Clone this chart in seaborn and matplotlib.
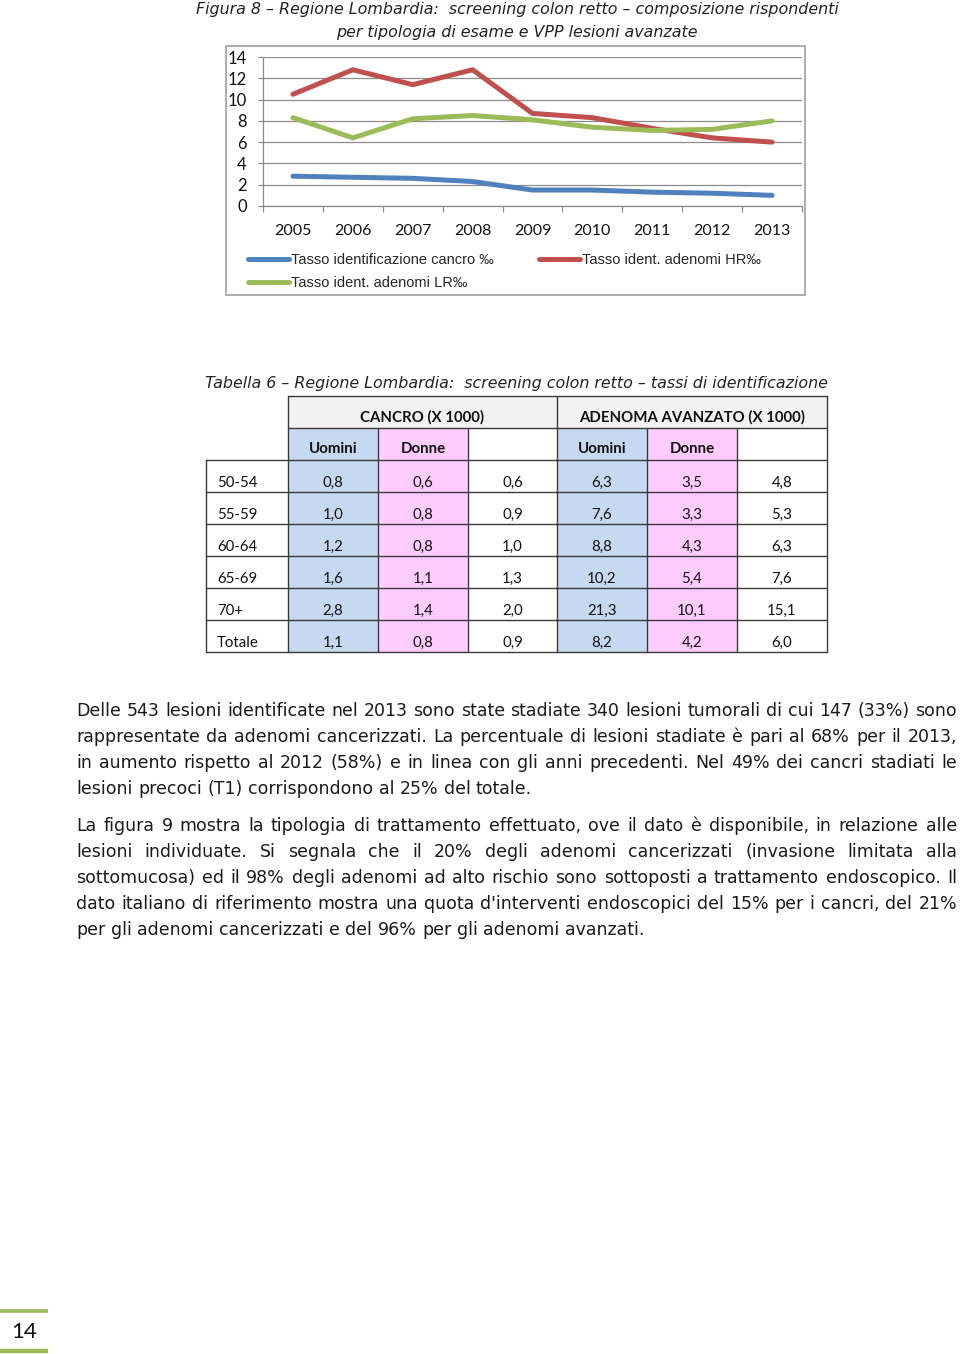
import matplotlib
matplotlib.use("Agg")
import matplotlib.pyplot as plt
import seaborn as sns
import pandas as pd
import numpy as np
from matplotlib.patches import Rectangle

# ---------------- data ----------------
years = [2005, 2006, 2007, 2008, 2009, 2010, 2011, 2012, 2013]
tasso_cancro = [2.8, 2.7, 2.6, 2.3, 1.5, 1.5, 1.3, 1.2, 1.0]
tasso_hr = [10.5, 12.8, 11.4, 12.8, 8.7, 8.3, 7.3, 6.4, 6.0]
tasso_lr = [8.3, 6.4, 8.2, 8.5, 8.1, 7.4, 7.1, 7.2, 8.0]
series_labels = ["Tasso identificazione cancro ‰", "Tasso ident. adenomi HR‰",
                 "Tasso ident. adenomi LR‰"]
y_ticks = [0, 2, 4, 6, 8, 10, 12, 14]

age_groups = ["50-54", "55-59", "60-64", "65-69", "70+", "Totale"]
cancro_uomini = [0.8, 1.0, 1.2, 1.6, 2.8, 1.1]
cancro_donne = [0.6, 0.8, 0.8, 1.1, 1.4, 0.8]
cancro_totale = [0.6, 0.9, 1.0, 1.3, 2.0, 0.9]
adenoma_uomini = [6.3, 7.6, 8.8, 10.2, 21.3, 8.2]
adenoma_donne = [3.5, 3.3, 4.3, 5.4, 10.1, 4.2]
adenoma_totale = [4.8, 5.3, 6.3, 7.6, 15.1, 6.0]
group_headers = ["CANCRO (X 1000)", "ADENOMA AVANZATO (X 1000)"]
sub_headers = ["Uomini", "Donne", "", "Uomini", "Donne", ""]

fig_title = ["Figura 8 – Regione Lombardia:  screening colon retto – composizione rispondenti",
             "per tipologia di esame e VPP lesioni avanzate"]
tab_title = "Tabella 6 – Regione Lombardia:  screening colon retto – tassi di identificazione"
paragraphs = [
    ["Delle 543 lesioni identificate nel 2013 sono state stadiate 340 lesioni tumorali di cui 147 (33%) sono",
     "rappresentate da adenomi cancerizzati. La percentuale di lesioni stadiate è pari al 68% per il 2013,",
     "in aumento rispetto al 2012 (58%) e in linea con gli anni precedenti. Nel 49% dei cancri stadiati le",
     "lesioni precoci (T1) corrispondono al 25% del totale."],
    ["La figura 9 mostra la tipologia di trattamento effettuato, ove il dato è disponibile, in relazione alle",
     "lesioni individuate. Si segnala che il 20% degli adenomi cancerizzati (invasione limitata alla",
     "sottomucosa) ed il 98% degli adenomi ad alto rischio sono sottoposti a trattamento endoscopico. Il",
     "dato italiano di riferimento mostra una quota d'interventi endoscopici del 15% per i cancri, del 21%",
     "per gli adenomi cancerizzati e del 96% per gli adenomi avanzati."],
]
page_number = "14"

# ---------------- styles ----------------
BLUE, RED, GREEN = "#4f81bd", "#c0504d", "#9bbb59"
GRID = "#8c8c8c"
CELL_BLUE, CELL_PINK, HEAD_GRAY = "#c6d9f1", "#ffccff", "#f2f2f2"
BODY = "DejaVu Sans"
TAB = "Lato"
W, H = 960, 1354

sns.set_style("white")
plt.rcParams["font.family"] = ["DejaVu Sans"]

fig = plt.figure(figsize=(W / 100, H / 100), dpi=100)
bg = fig.add_axes([0, 0, 1, 1])
bg.set_xlim(0, W)
bg.set_ylim(H, 0)
bg.axis("off")
renderer = fig.canvas.get_renderer()


def text_width(s, size, **kw):
    t = bg.text(0, 0, s, fontsize=size, **kw)
    w = t.get_window_extent(renderer).width
    t.remove()
    return w


def fit_size(s, target, **kw):
    return 10 * target / text_width(s, 10, **kw)


def px_rect(l, t, r, b):
    return [l / W, 1 - b / H, (r - l) / W, (b - t) / H]


# ---------------- chart ----------------
title_size = fit_size(fig_title[0], 643, family=BODY, style="italic")
bg.text(517, 14, fig_title[0], fontsize=title_size, family=BODY, style="italic",
        ha="center", va="baseline", color="#222222")
bg.text(517, 37, fig_title[1], fontsize=title_size, family=BODY, style="italic",
        ha="center", va="baseline", color="#222222")

bg.add_patch(Rectangle((226, 46), 805 - 226, 295 - 46, fill=False, ec="#a6a6a6", lw=1.3))

df = pd.DataFrame({"Anno": years * 3,
                   "Valore": tasso_cancro + tasso_hr + tasso_lr,
                   "Serie": [series_labels[0]] * 9 + [series_labels[1]] * 9 + [series_labels[2]] * 9})
ax = fig.add_axes(px_rect(263, 57, 802, 206))
sns.lineplot(data=df, x="Anno", y="Valore", hue="Serie", hue_order=series_labels,
             palette=[BLUE, RED, GREEN], linewidth=3.6, ax=ax, legend=False)
for ln in ax.lines:
    ln.set_solid_capstyle("round")
    ln.set_solid_joinstyle("round")
ax.set_xlim(2004.5, 2013.5)
ax.set_ylim(0, 14)
ax.set_yticks(y_ticks)
ax.set_xticks(years)
ax.set_xticks(np.arange(2004.5, 2014, 1.0), minor=True)
ax.set_xlabel("")
ax.set_ylabel("")
ax.grid(axis="y", color=GRID, lw=0.9)
ax.grid(axis="x", visible=False)
ax.set_axisbelow(True)
for s in ["top", "right"]:
    ax.spines[s].set_visible(False)
for s in ["left", "bottom"]:
    ax.spines[s].set_color(GRID)
    ax.spines[s].set_linewidth(0.9)
ax.tick_params(axis="y", which="major", length=3.6, width=0.9, color=GRID, pad=8,
               labelsize=12, labelcolor="#111111", left=True)
ax.tick_params(axis="x", which="major", length=0, pad=13, labelsize=11.5, labelcolor="#111111")
ax.tick_params(axis="x", which="minor", length=4.5, width=0.9, color=GRID, bottom=True, direction="out")
for lab in ax.get_yticklabels() + ax.get_xticklabels():
    lab.set_family("Lato")
ax.patch.set_alpha(0)

h = ax.lines
leg = fig.legend([h[0], h[2], h[1]], [series_labels[0], series_labels[2], series_labels[1]],
                 ncol=2, loc="upper left", bbox_to_anchor=(248 / W, 1 - 253 / H),
                 frameon=False, prop={"family": "Liberation Sans", "size": 10.5},
                 handlelength=2.8, handletextpad=0.15, columnspacing=3.1,
                 labelspacing=0.62, borderpad=0, borderaxespad=0)
for lh in leg.get_lines():
    lh.set_linewidth(3.6)
    lh.set_solid_capstyle("round")

# ---------------- table ----------------
tsize = fit_size(tab_title, 622, family=BODY, style="italic")
bg.text(516, 388, tab_title, fontsize=tsize, family=BODY, style="italic",
        ha="center", va="baseline", color="#222222")

col_edges = [206, 288, 378, 468, 557, 647, 737, 827]
row_edges = [396, 428, 460, 492, 524, 556, 588, 620, 652]
LINE = "#3a3a3a"
cell_size = 10.8

table = pd.DataFrame({"Uomini C": cancro_uomini, "Donne C": cancro_donne, "Tot C": cancro_totale,
                      "Uomini A": adenoma_uomini, "Donne A": adenoma_donne, "Tot A": adenoma_totale},
                     index=age_groups)
col_fill = [CELL_BLUE, CELL_PINK, "white", CELL_BLUE, CELL_PINK, "white"]

# header row 1 (merged)
bg.add_patch(Rectangle((col_edges[1], row_edges[0]), col_edges[7] - col_edges[1],
                       row_edges[1] - row_edges[0], fc=HEAD_GRAY, ec="none"))
for g, (c0, c1) in enumerate([(1, 4), (4, 7)]):
    xm = (col_edges[c0] + col_edges[c1]) / 2
    bg.text(xm, (row_edges[0] + row_edges[1]) / 2 + 5, group_headers[g], fontsize=cell_size,
            family=TAB, weight="bold", ha="center", va="center", color="#111111")
# header row 2 + body fills
for j in range(6):
    x0, x1 = col_edges[j + 1], col_edges[j + 2]
    bg.add_patch(Rectangle((x0, row_edges[1]), x1 - x0, row_edges[-1] - row_edges[1],
                           fc=col_fill[j], ec="none"))
    if sub_headers[j]:
        bg.text((x0 + x1) / 2, (row_edges[1] + row_edges[2]) / 2 + 5, sub_headers[j],
                fontsize=cell_size, family=TAB, weight="bold", ha="center", va="center",
                color="#111111")
for i, grp in enumerate(age_groups):
    yc = (row_edges[i + 2] + row_edges[i + 3]) / 2 + 7
    bg.text(col_edges[0] + 11, yc, grp, fontsize=cell_size, family=TAB, ha="left", va="center",
            color="#111111")
    for j, col in enumerate(table.columns):
        val = f"{table.loc[grp, col]:.1f}".replace(".", ",")
        bg.text((col_edges[j + 1] + col_edges[j + 2]) / 2, yc, val, fontsize=cell_size,
                family=TAB, ha="center", va="center", color="#111111")
# grid lines
lw = 1.0
bg.plot([col_edges[1], col_edges[7]], [row_edges[0]] * 2, color=LINE, lw=lw)
bg.plot([col_edges[1], col_edges[7]], [row_edges[1]] * 2, color=LINE, lw=lw)
for r in row_edges[2:]:
    bg.plot([col_edges[0], col_edges[7]], [r, r], color=LINE, lw=lw)
for c in [col_edges[1], col_edges[4], col_edges[7]]:
    bg.plot([c, c], [row_edges[0], row_edges[1]], color=LINE, lw=lw)
for c in col_edges[1:]:
    bg.plot([c, c], [row_edges[1], row_edges[-1]], color=LINE, lw=lw)
bg.plot([col_edges[0]] * 2, [row_edges[2], row_edges[-1]], color=LINE, lw=lw)

# ---------------- body text (justified) ----------------
body_size = fit_size(paragraphs[0][3], 454, family=BODY)
X0, X1 = 76, 957
space_w = text_width("a a", body_size, family=BODY) - text_width("aa", body_size, family=BODY)
baselines = [[716, 742, 768, 794], [831, 857, 883, 909, 935]]
for para, ys in zip(paragraphs, baselines):
    for k, (line, y) in enumerate(zip(para, ys)):
        words = line.split(" ")
        widths = [text_width(wd, body_size, family=BODY) for wd in words]
        last = k == len(para) - 1
        gap = space_w if last else (X1 - X0 - sum(widths)) / (len(words) - 1)
        x = X0
        for wd, ww in zip(words, widths):
            bg.text(x, y, wd, fontsize=body_size, family=BODY, ha="left", va="baseline",
                    color="#1a1a1a")
            x += ww + gap

# ---------------- page number ----------------
bg.plot([0, 48], [1311, 1311], color=GREEN, lw=2.6, solid_capstyle="butt")
bg.plot([0, 48], [1351, 1351], color=GREEN, lw=3.2, solid_capstyle="butt")
bg.text(24, 1338, page_number, fontsize=16, family="Lato", ha="center", va="baseline",
        color="#111111")

fig.savefig("out.png", dpi=100)
